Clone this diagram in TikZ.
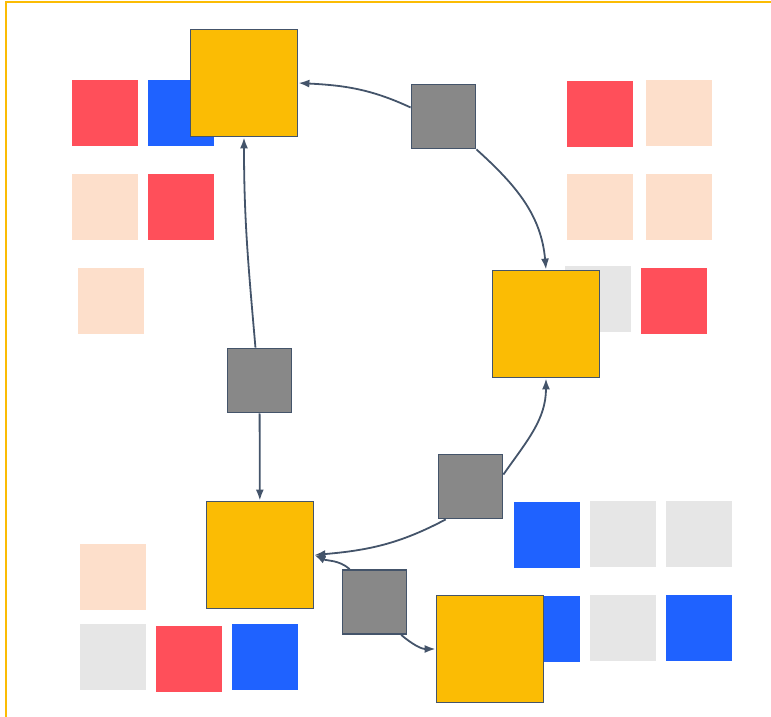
\documentclass[tikz,border=0pt]{standalone}
\usepackage{xcolor}
\usepackage{tikz}
\usetikzlibrary{arrows.meta}

\definecolor{hubyellow}{HTML}{FBBC04}
\definecolor{relaygray}{HTML}{888888}
\definecolor{edgeslate}{HTML}{44546A}
\definecolor{tilered}{HTML}{FF4F5A}
\definecolor{tileblue}{HTML}{1F62FF}
\definecolor{tilepeach}{HTML}{FDDFCB}
\definecolor{tilegray}{HTML}{E6E6E6}

\begin{document}
\begin{tikzpicture}[x=1pt, y=1pt, >={Latex[length=11pt,width=8pt]},
    tile/.style={rectangle, inner sep=0pt, minimum size=66pt},
    hub/.style={rectangle, draw=edgeslate, line width=1.8pt, fill=hubyellow, inner sep=0pt, minimum size=107pt},
    relay/.style={rectangle, draw=edgeslate, line width=1.8pt, fill=relaygray, inner sep=0pt, minimum size=64pt},
    link/.style={->, draw=edgeslate, line width=1.8pt}]

    \useasboundingbox (0,0) rectangle (771,717);
    \draw[hubyellow, line width=2pt] (5.5,0) -- (5.5,715) -- (771,715);

    % top left tiles
    \node[tile, fill=tilered] (TL1) at (105,604) {};
    \node[tile, fill=tileblue] (TL2) at (181,604) {};
    \node[tile, fill=tilepeach] (TL3) at (105,510) {};
    \node[tile, fill=tilered] (TL4) at (181,510) {};
    \node[tile, fill=tilepeach] (TL5) at (111,416) {};

    % top right tiles
    \node[tile, fill=tilered] (TR1) at (600,603) {};
    \node[tile, fill=tilepeach] (TR2) at (679,604) {};
    \node[tile, fill=tilepeach] (TR3) at (600,510) {};
    \node[tile, fill=tilepeach] (TR4) at (679,510) {};
    \node[tile, fill=tilegray] (TR5) at (598,418) {};
    \node[tile, fill=tilered] (TR6) at (674,416) {};

    % bottom right tiles
    \node[tile, fill=tileblue] (BR1) at (547,182) {};
    \node[tile, fill=tilegray] (BR2) at (623,183) {};
    \node[tile, fill=tilegray] (BR3) at (699,183) {};
    \node[tile, fill=tileblue] (BR4) at (547,88) {};
    \node[tile, fill=tilegray] (BR5) at (623,89) {};
    \node[tile, fill=tileblue] (BR6) at (699,89) {};

    % bottom left tiles
    \node[tile, fill=tilepeach] (BL1) at (113,140) {};
    \node[tile, fill=tilegray] (BL2) at (113,60) {};
    \node[tile, fill=tilered] (BL3) at (189,58) {};
    \node[tile, fill=tileblue] (BL4) at (265,60) {};

    % hubs and relays
    \node[hub] (H1) at (244,634) {};
    \node[hub] (H2) at (546,393) {};
    \node[hub] (H3) at (260,162) {};
    \node[hub] (H4) at (490,68) {};

    \node[relay] (R1) at (443.5,600.5) {};
    \node[relay] (R2) at (259.5,336.5) {};
    \node[relay] (R3) at (470.5,230.5) {};
    \node[relay] (R4) at (374.5,115) {};

    \draw[link] (R1.west) ++(0,9) to[out=155, in=-3] (H1.east);
    \draw[link] (R1.south east) to[out=-42, in=95] (H2.north);
    \draw[link] (R2.97) to[out=95, in=-90] (H1.south);
    \draw[link] (R2) -- (H3);
    \draw[link] (R3.20) to[out=55, in=-90] (H2.south);
    \draw[link] (R3.233) to[out=208, in=5] (H3.east);
    \draw[link] (R4.127) to[out=140, in=-25] (H3.east);
    \draw[link] (R4.-51) to[out=-40, in=180] (H4.west);
\end{tikzpicture}
\end{document}
